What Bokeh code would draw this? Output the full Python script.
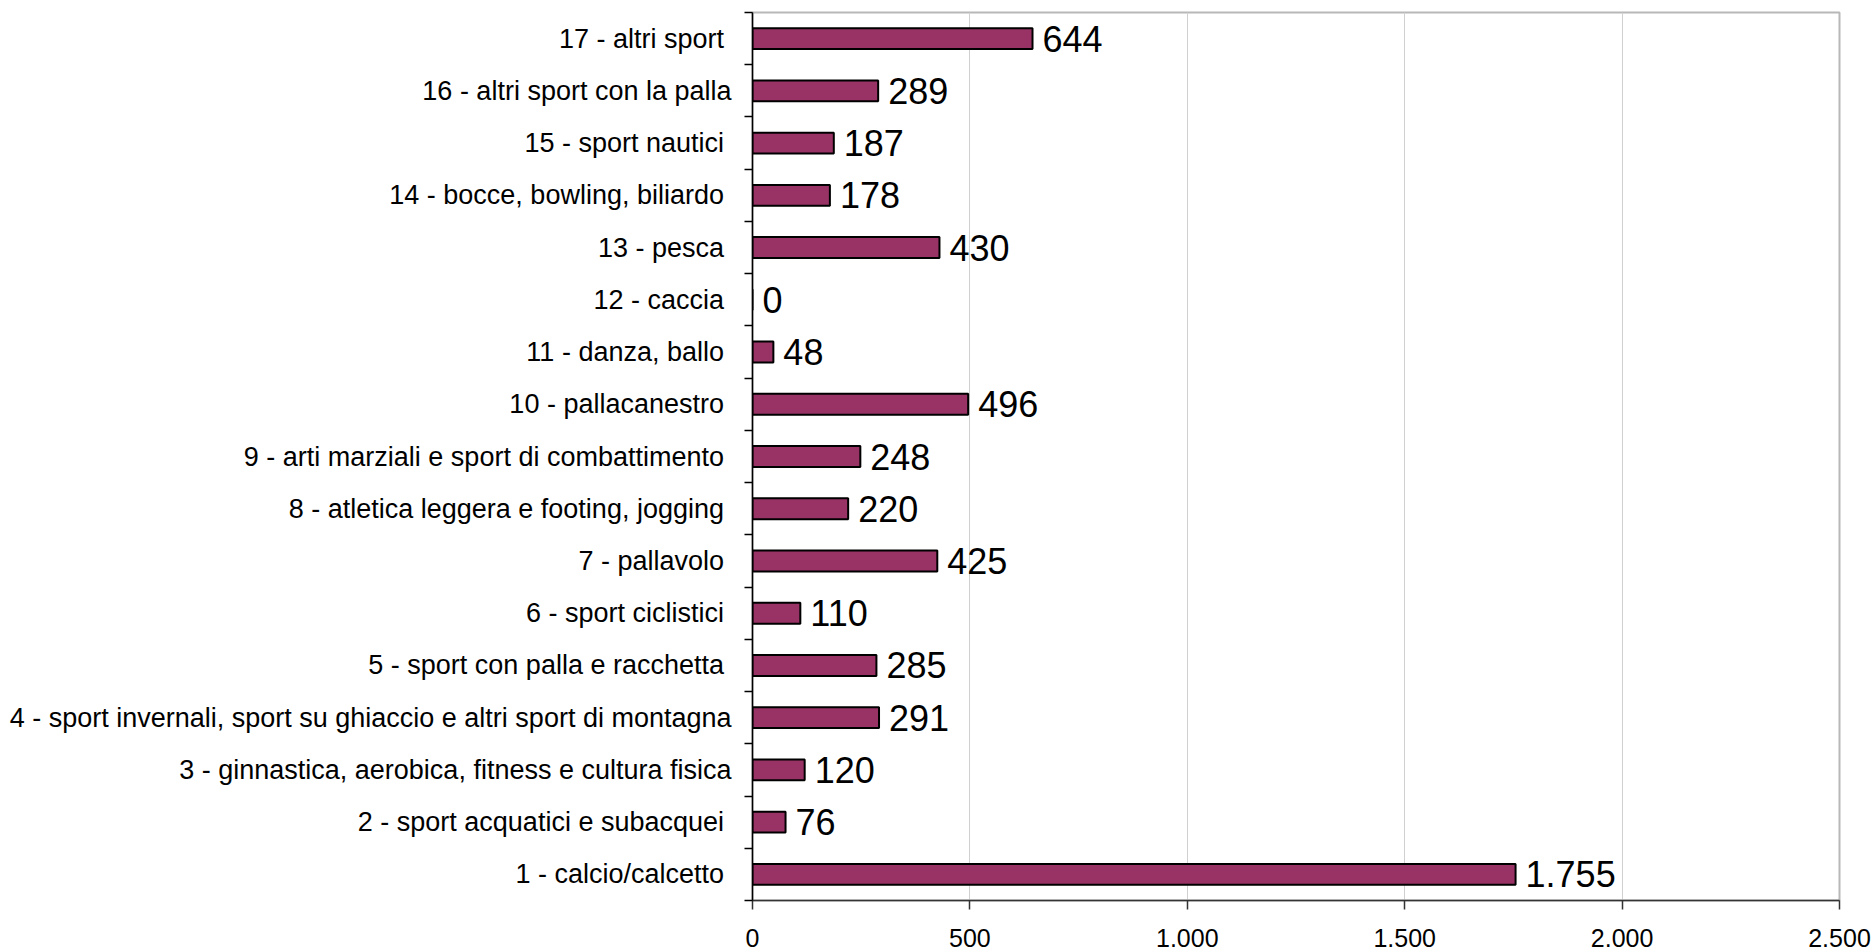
from bokeh.plotting import figure
from bokeh.models import ColumnDataSource, FixedTicker, Range1d
from bokeh.core.properties import value
from bokeh.embed import file_html
from bokeh.resources import INLINE

categories = [
    "1 - calcio/calcetto ",
    "2 - sport acquatici e subacquei ",
    "3 - ginnastica, aerobica, fitness e cultura fisica",
    "4 - sport invernali, sport su ghiaccio e altri sport di montagna",
    "5 - sport con palla e racchetta ",
    "6 - sport ciclistici ",
    "7 - pallavolo ",
    "8 - atletica leggera e footing, jogging ",
    "9 - arti marziali e sport di combattimento ",
    "10 - pallacanestro ",
    "11 - danza, ballo ",
    "12 - caccia ",
    "13 - pesca ",
    "14 - bocce, bowling, biliardo ",
    "15 - sport nautici ",
    "16 - altri sport con la palla",
    "17 - altri sport ",
]
values = [1755, 76, 120, 291, 285, 110, 425, 220, 248, 496, 48, 0, 430, 178, 187, 289, 644]
x_ticks = [0, 500, 1000, 1500, 2000, 2500]
x_tick_labels = ["0", "500", "1.000", "1.500", "2.000", "2.500"]

positions = list(range(1, len(categories) + 1))
labels = [f"{v:,}".replace(",", ".") for v in values]

src = ColumnDataSource(dict(y=positions, v=values, lab=labels))

FONT = "Liberation Sans"

p = figure(width=1876, height=951, output_backend="svg", toolbar_location=None,
           x_range=Range1d(0, 2500), y_range=Range1d(0.5, len(categories) + 0.5),
           min_border_left=752, min_border_right=37, min_border_top=12, min_border_bottom=51)

p.hbar(y="y", left=0, right="v", height=0.4, source=src,
       fill_color="#993366", line_color="black", line_width=2)

p.text(x="v", y="y", text="lab", source=src, x_offset=10, text_baseline="middle",
       text_align="left", text_font=value(FONT), text_font_size="36px", text_color="black")

# y axis
p.yaxis.ticker = FixedTicker(ticks=positions, minor_ticks=[i + 0.5 for i in range(0, len(categories) + 1)])
p.yaxis.major_label_overrides = {pos: c for pos, c in zip(positions, categories)}
p.yaxis.major_tick_out = 0
p.yaxis.major_tick_in = 0
p.yaxis.minor_tick_out = 8
p.yaxis.minor_tick_in = 0
p.yaxis.minor_tick_line_color = "black"
p.yaxis.minor_tick_line_width = 1.5
p.yaxis.axis_line_color = "black"
p.yaxis.axis_line_width = 1.5
p.yaxis.major_label_standoff = 13
p.yaxis.major_label_text_font = FONT
p.yaxis.major_label_text_font_size = "27px"
p.yaxis.major_label_text_color = "black"

# x axis
p.xaxis.ticker = FixedTicker(ticks=x_ticks, minor_ticks=[])
p.xaxis.major_label_overrides = {t: l for t, l in zip(x_ticks, x_tick_labels)}
p.xaxis.major_tick_out = 9
p.xaxis.major_tick_in = 0
p.xaxis.major_tick_line_color = "#333333"
p.xaxis.major_tick_line_width = 1.5
p.xaxis.axis_line_color = "#333333"
p.xaxis.axis_line_width = 1.5
p.xaxis.major_label_standoff = 19
p.xaxis.major_label_text_font = FONT
p.xaxis.major_label_text_font_size = "25px"
p.xaxis.major_label_text_color = "black"

p.ygrid.grid_line_color = None
p.xgrid.ticker = FixedTicker(ticks=x_ticks)
p.xgrid.grid_line_color = "#d0d0d0"
p.xgrid.grid_line_width = 1

p.outline_line_color = "#b8b8b8"
p.outline_line_width = 2
p.background_fill_color = "white"
p.border_fill_color = "white"

open("out.html", "w").write(file_html(p, INLINE))
